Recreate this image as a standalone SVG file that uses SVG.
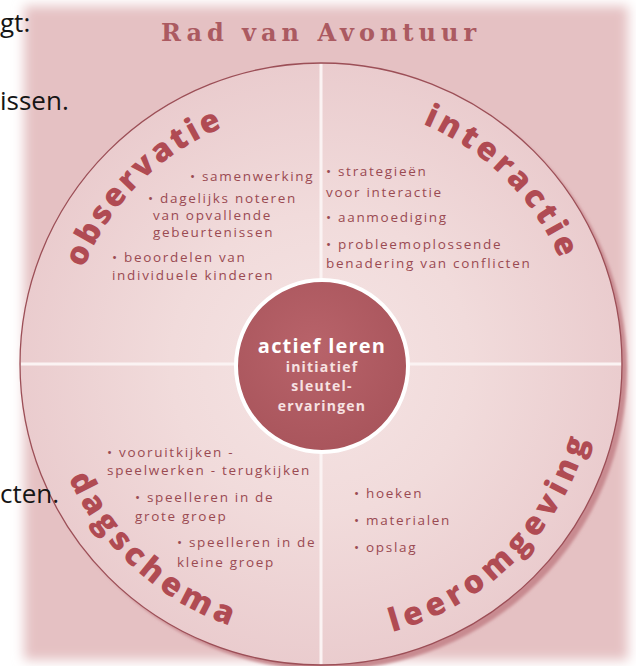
<svg xmlns="http://www.w3.org/2000/svg" width="636" height="666" viewBox="0 0 636 666">
<defs>
<filter id="soft" x="-10%" y="-10%" width="120%" height="120%"><feGaussianBlur stdDeviation="6"/></filter>
<filter id="shade" x="-10%" y="-10%" width="120%" height="120%"><feGaussianBlur stdDeviation="1.5"/></filter>
<radialGradient id="wheel" cx="321" cy="364" r="301" gradientUnits="userSpaceOnUse">
<stop offset="0" stop-color="#f5e4e4"/>
<stop offset="0.5" stop-color="#f1dbdb"/>
<stop offset="1" stop-color="#eaccce"/>
</radialGradient>
<radialGradient id="hub" cx="0.45" cy="0.4" r="0.65">
<stop offset="0" stop-color="#b8636a"/>
<stop offset="1" stop-color="#a8545b"/>
</radialGradient>
<path id="pObs" d="M74.7,430 A254,254 0 0 1 387,117.7"/>
<path id="pInt" d="M253.7,112.9 A259,259 0 0 1 572.1,431.3"/>
<path id="pDag" d="M49.1,306.2 A279,279 0 0 0 406.9,628.4"/>
<path id="pLeer" d="M249.1,632.5 A279,279 0 0 0 589.5,292.1"/>
</defs>
<style>
.page{font-family:"Open Sans","Noto Sans",sans-serif;font-size:26px;fill:#151515}
.title{font-family:"DejaVu Serif","Liberation Serif",serif;font-weight:bold;font-size:24px;fill:#ab5a61;letter-spacing:5px}
.item{font-family:"Open Sans","Noto Sans",sans-serif;font-size:13.5px;fill:#9a4a52;letter-spacing:1.7px}
.arc{font-family:"Open Sans","Noto Sans",sans-serif;font-weight:800;font-size:32px;fill:#b04b53}
.hub1{font-family:"Open Sans","Noto Sans",sans-serif;font-weight:bold;font-size:20px;fill:#ffffff;letter-spacing:1.2px}
.hub2{font-family:"Open Sans","Noto Sans",sans-serif;font-weight:bold;font-size:14px;fill:#f7e2e2;letter-spacing:1.2px}
.div{stroke:#fbf3f3;stroke-width:3;fill:none}
</style>
<rect width="636" height="666" fill="#ffffff"/>
<rect x="24" y="6" width="604" height="654" fill="#e5c1c3" filter="url(#soft)"/>
<g id="title"><text class="title" x="321" y="41" text-anchor="middle">Rad van Avontuur</text></g>
<g id="wheel">
<circle cx="326" cy="369" r="301" fill="#c88a90" filter="url(#shade)"/>
<circle cx="321" cy="364" r="301" fill="url(#wheel)" stroke="#9c4f57" stroke-width="1.3"/>
</g>
<g id="connectors">
<line class="div" x1="21" y1="364" x2="621" y2="364"/>
<line class="div" x1="321" y1="64" x2="321" y2="664"/>
</g>
<g id="observatie">
<text class="arc" letter-spacing="2.9"><textPath href="#pObs" startOffset="50%" text-anchor="middle">observatie</textPath></text>
<text class="item" x="190" y="181">• samenwerking</text>
<text class="item" x="148" y="203">• dagelijks noteren</text>
<text class="item" x="153" y="220">van opvallende</text>
<text class="item" x="153" y="237">gebeurtenissen</text>
<text class="item" x="112" y="262">• beoordelen van</text>
<text class="item" x="112" y="280">individuele kinderen</text>
</g>
<g id="interactie">
<text class="arc" letter-spacing="3.7"><textPath href="#pInt" startOffset="50%" text-anchor="middle">interactie</textPath></text>
<text class="item" x="326" y="176">• strategieën</text>
<text class="item" x="326" y="197">voor interactie</text>
<text class="item" x="326" y="222">• aanmoediging</text>
<text class="item" x="326" y="249">• probleemoplossende</text>
<text class="item" x="326" y="268">benadering van conflicten</text>
</g>
<g id="dagschema">
<text class="arc" letter-spacing="4.7"><textPath href="#pDag" startOffset="50%" text-anchor="middle">dagschema</textPath></text>
<text class="item" x="107" y="457">• vooruitkijken -</text>
<text class="item" x="107" y="475">speelwerken - terugkijken</text>
<text class="item" x="135" y="502">• speelleren in de</text>
<text class="item" x="135" y="521">grote groep</text>
<text class="item" x="177" y="547">• speelleren in de</text>
<text class="item" x="177" y="567">kleine groep</text>
</g>
<g id="leeromgeving">
<text class="arc" letter-spacing="5.3"><textPath href="#pLeer" startOffset="50%" text-anchor="middle">leeromgeving</textPath></text>
<text class="item" x="354" y="498">• hoeken</text>
<text class="item" x="354" y="525">• materialen</text>
<text class="item" x="354" y="552">• opslag</text>
</g>
<g id="actief-leren">
<circle cx="322" cy="366" r="86" fill="url(#hub)" stroke="#ffffff" stroke-width="4"/>
<text class="hub1" x="322" y="353" text-anchor="middle">actief leren</text>
<text class="hub2" x="322" y="372" text-anchor="middle">initiatief</text>
<text class="hub2" x="322" y="391" text-anchor="middle">sleutel-</text>
<text class="hub2" x="322" y="411" text-anchor="middle">ervaringen</text>
</g>
<g id="page-text" class="page">
<text x="0" y="32">gt:</text>
<text x="0" y="110">issen.</text>
<text x="0" y="503">cten.</text>
</g>
</svg>
